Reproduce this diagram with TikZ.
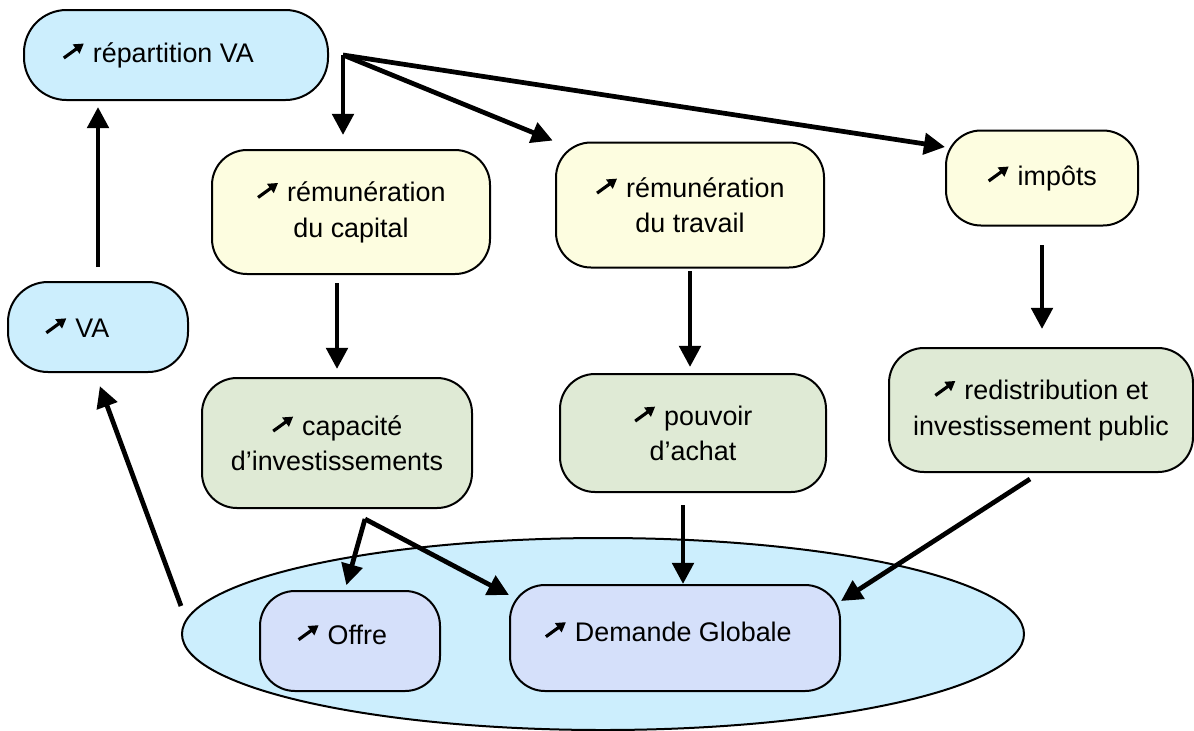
\documentclass[tikz,border=0pt]{standalone}
\usepackage{fontspec}
\setmainfont{Liberation Sans}
\usetikzlibrary{arrows.meta}
\usetikzlibrary{positioning}
\usetikzlibrary{shapes.geometric}
\usetikzlibrary{calc}
\definecolor{bleuclair}{HTML}{CCEEFD}
\definecolor{jaunepale}{HTML}{FDFDE0}
\definecolor{vertpale}{HTML}{DFEAD5}
\definecolor{lavande}{HTML}{D5E0FA}
\newcommand{\hausse}{\tikz[baseline=0pt]\draw[line width=1.8pt,-{Triangle[length=5.4pt,width=6.2pt]}] (0,0.09) -- (0.40,0.38);\ }
\newcommand{\monte}[1]{\raisebox{0.14cm}[\height][\depth]{#1}}

\begin{document}
\begin{tikzpicture}
	\tikzset{
	  boite/.style args={#1/#2}{draw,line width=0.4mm,rounded corners=0.7cm,align=center,
		minimum width=#1cm,minimum height=#2cm,inner sep=0pt,font=\fontsize{15.3}{20}\selectfont},
	  fleche/.style={line width=0.95mm,-{Triangle[length=12pt,width=12pt]}},
	}
	\useasboundingbox (0,0) rectangle (23.88,-14.6);
	%ELLIPSE
	\node[ellipse,draw,line width=0.4mm,fill=bleuclair,minimum width=16.84cm,minimum height=3.84cm] (marche) at (12.06,-12.68) {};
	%LIGNE 1
	\node[boite={6.08/1.80},fill=bleuclair,rounded corners=0.85cm] (repart) at (3.52,-1.10) {\hausse répartition VA\hspace{0.72cm}};
	\node[boite={3.84/1.90},fill=jaunepale] (impots) at (20.84,-3.56) {\hausse impôts};
	%LIGNE 2
	\node[boite={5.56/2.48},fill=jaunepale] (remcap) at (7.02,-4.24) {\hausse rémunération\\du capital};
	\node[boite={5.36/2.50},fill=jaunepale] (remtrav) at (13.80,-4.10) {\hausse rémunération\\du travail};
	\node[boite={3.60/1.80},fill=bleuclair,rounded corners=0.8cm] (va) at (1.96,-6.54) {\hausse VA\hspace{0.84cm}};
	%LIGNE 3
	\node[boite={5.40/2.60},fill=vertpale] (capinv) at (6.74,-8.86) {\hausse capacité\\d’investissements};
	\node[boite={5.32/2.36},fill=vertpale] (pouvoir) at (13.86,-8.66) {\hausse pouvoir\\d’achat};
	\node[boite={6.08/2.48},fill=vertpale] (redis) at (20.82,-8.20) {\hausse redistribution et\\investissement public};
	%LIGNE 4
	\node[boite={3.60/2.00},fill=lavande] (offre) at (7.00,-12.82) {\monte{\hausse Offre}\hspace{0.32cm}};
	\node[boite={6.60/2.12},fill=lavande] (demande) at (13.50,-12.76) {\monte{\hausse Demande Globale}\hspace{0.28cm}};
	%POINTS DE DEPART
	\coordinate (fan) at ([xshift=0.28cm]repart.east);
	\coordinate (split) at ([xshift=0.56cm,yshift=-0.2cm]capinv.south);
	%FLECHES
	\draw[fleche,shorten <=0.28cm,shorten >=0.12cm] (va.north) -- (va.north |- repart.south);
	\draw[fleche,shorten >=0.28cm] (fan) -- (fan |- remcap.north);
	\draw[fleche,shorten >=0.05cm] (fan) -- (remtrav.north west);
	\draw[fleche] (fan) -- ([yshift=-0.35cm]impots.north west);
	\draw[fleche,shorten <=0.16cm,shorten >=0.16cm] (capinv.north |- remcap.south) -- (capinv.north);
	\draw[fleche,shorten <=0.05cm,shorten >=0.12cm] (remtrav.south) -- (remtrav.south |- pouvoir.north);
	\draw[fleche,shorten <=0.37cm,shorten >=0.36cm] (impots.south) -- (impots.south |- redis.north);
	\draw[fleche,shorten >=0.1cm] (split) -- ([xshift=-0.1cm]offre.north);
	\draw[fleche] (split) -- ([yshift=-0.22cm]demande.north west);
	\draw[fleche,shorten <=0.24cm] ([xshift=-0.2cm]pouvoir.south) -- ([xshift=-0.2cm]pouvoir.south |- demande.north);
	\draw[fleche] ([xshift=-0.22cm,yshift=-0.12cm]redis.south) -- ([yshift=-0.34cm]demande.north east);
	\draw[fleche,shorten >=0.28cm] ([yshift=0.56cm]marche.west) -- ([xshift=-0.06cm]va.south);
\end{tikzpicture}
\end{document}
